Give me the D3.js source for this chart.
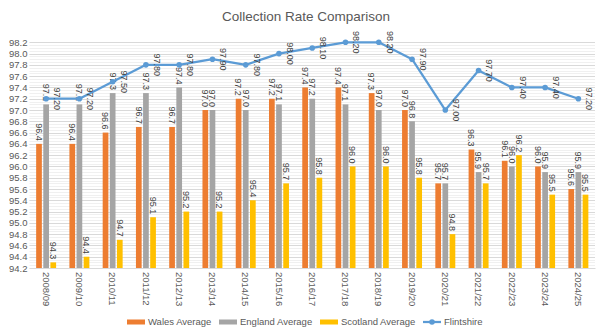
<!DOCTYPE html>
<html><head><meta charset="utf-8">
<script src="https://cdn.jsdelivr.net/npm/d3@7"></script>
<style>
body{margin:0;background:#fff;}
svg{display:block;font-family:"Liberation Sans",Arial,sans-serif;}
</style></head>
<body><svg id="c" width="602" height="333"></svg>
<script>
const years = ["2008/09","2009/10","2010/11","2011/12","2012/13","2013/14","2014/15","2015/16","2016/17","2017/18","2018/19","2019/20","2020/21","2021/22","2022/23","2023/24","2024/25"];
const wales = [96.4,96.4,96.6,96.7,96.7,97.0,97.2,97.2,97.4,97.4,97.3,97.0,95.7,96.3,96.1,96.0,95.6];
const england = [97.1,97.1,97.3,97.3,97.4,97.0,97.0,97.1,97.2,97.1,97.0,96.8,95.7,95.9,96.0,95.9,95.9];
const scotland = [94.3,94.4,94.7,95.1,95.2,95.2,95.4,95.7,95.8,96.0,96.0,95.8,94.8,95.7,96.2,95.5,95.5];
const flintshire = [97.2,97.2,97.5,97.8,97.8,97.9,97.8,98.0,98.1,98.2,98.2,97.9,97.0,97.7,97.4,97.4,97.2];
const yTicks = d3.range(94.2, 98.21, 0.2).map(v => +v.toFixed(1));
const barSeries = [
  {name:"Wales Average", values:wales, color:"#ED7D31"},
  {name:"England Average", values:england, color:"#A5A5A5"},
  {name:"Scotland Average", values:scotland, color:"#FFC000"}
];
const lineSeries = {name:"Flintshire", values:flintshire, color:"#5B9BD5"};

const svg = d3.select("#c");
const L = 29.5, R = 595, T = 42.3, B = 268;
const x = d3.scaleBand().domain(years).range([L, R]).padding(0);
const bw = x.bandwidth();
const x1 = d3.scaleBand().domain([0,1,2]).range([bw*0.2, bw*0.8]).paddingInner(0.2).paddingOuter(0);
const y = d3.scaleLinear().domain([94.2, 98.2]).range([B, T]);
const txt = "#595959";

// title
svg.append("text").attr("x", 306).attr("y", 21).attr("text-anchor","middle")
  .attr("font-size", 13.5).attr("fill", txt).text("Collection Rate Comparison");

// minor grid
const minor = d3.range(94.2, 98.2, 0.05);
svg.append("g").selectAll("line").data(minor).join("line")
  .attr("x1", L).attr("x2", R).attr("y1", d => Math.round(y(d))+0.5).attr("y2", d => Math.round(y(d))+0.5)
  .attr("stroke", "#f0f0f0").attr("stroke-width", 1);
// major grid
svg.append("g").selectAll("line").data(yTicks).join("line")
  .attr("x1", L).attr("x2", R).attr("y1", d => Math.round(y(d))+0.5).attr("y2", d => Math.round(y(d))+0.5)
  .attr("stroke", "#d9d9d9").attr("stroke-width", 1);

// y axis
const yAxis = d3.axisLeft(y).tickValues(yTicks).tickFormat(d3.format(".1f")).tickSize(0).tickPadding(0);
const ya = svg.append("g").attr("transform", `translate(${L-2},0)`).call(yAxis);
ya.select(".domain").remove();
ya.selectAll("text").attr("fill", txt).attr("font-size", 9.5).attr("font-family","Liberation Sans,Arial,sans-serif");

// x axis
const xAxis = d3.axisBottom(x).tickSize(0).tickPadding(0);
const xa = svg.append("g").attr("transform", `translate(0,${B})`).call(xAxis);
xa.select(".domain").attr("stroke", "#d9d9d9");
xa.selectAll("text").attr("fill", txt).attr("font-size", 9.5).attr("font-family","Liberation Sans,Arial,sans-serif")
  .attr("text-anchor","start").attr("transform","rotate(90)").attr("x", 4).attr("y", 0).attr("dy","0.35em");

// bars
barSeries.forEach((s, i) => {
  const g = svg.append("g");
  g.selectAll("rect").data(s.values).join("rect")
    .attr("x", (d, j) => x(years[j]) + x1(i)).attr("width", x1.bandwidth())
    .attr("y", d => y(d)).attr("height", d => B - y(d)).attr("fill", s.color);
  g.selectAll("text").data(s.values).join("text")
    .attr("transform", (d, j) => `translate(${x(years[j]) + x1(i) + x1.bandwidth()/2},${y(d) - 3}) rotate(90)`)
    .attr("text-anchor","end").attr("dy","0.35em").attr("font-size", 9).attr("fill", "#404040")
    .text(d => d.toFixed(1));
});

// line
const cx = j => x(years[j]) + bw/2;
const line = d3.line().x((d, j) => cx(j)).y(d => y(d));
svg.append("path").datum(lineSeries.values).attr("d", line).attr("fill","none")
  .attr("stroke", lineSeries.color).attr("stroke-width", 2.25).attr("stroke-linejoin","round");
svg.append("g").selectAll("circle").data(lineSeries.values).join("circle")
  .attr("cx", (d, j) => cx(j)).attr("cy", d => y(d)).attr("r", 2.8).attr("fill", lineSeries.color);
svg.append("g").selectAll("text").data(lineSeries.values).join("text")
  .attr("transform", (d, j) => `translate(${cx(j) + 11},${y(d)}) rotate(90)`)
  .attr("text-anchor","middle").attr("dy","0.35em").attr("font-size", 9).attr("fill", "#404040")
  .text(d => d.toFixed(2));

// legend
const leg = svg.append("g").attr("font-size", 9.5).attr("fill", txt);
const legItems = [...barSeries.map(s => ({name:s.name, color:s.color, type:"bar"})), {name:lineSeries.name, color:lineSeries.color, type:"line"}];
const legX = [127, 219, 320, 423];
legItems.forEach((it, i) => {
  const g = leg.append("g").attr("transform", `translate(${legX[i]},322)`);
  if (it.type === "bar") {
    g.append("rect").attr("x", 0).attr("y", -2.5).attr("width", 18).attr("height", 5).attr("fill", it.color);
  } else {
    g.append("line").attr("x1", 0).attr("x2", 18).attr("y1", 0).attr("y2", 0).attr("stroke", it.color).attr("stroke-width", 2.25);
    g.append("circle").attr("cx", 9).attr("cy", 0).attr("r", 2.8).attr("fill", it.color);
  }
  g.append("text").attr("x", 21).attr("y", 0).attr("dy", "0.35em").text(it.name);
});
</script></body></html>
